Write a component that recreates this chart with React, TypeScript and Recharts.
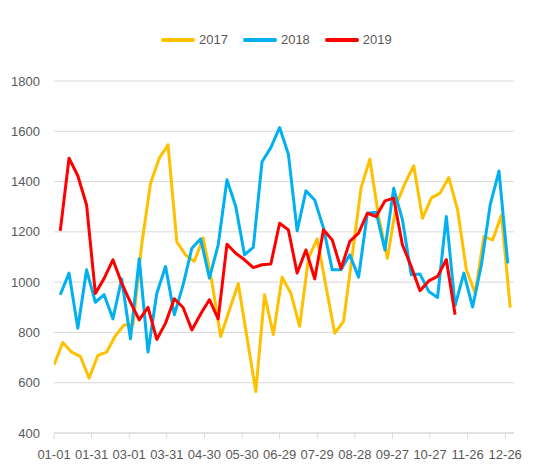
import { CartesianGrid, Legend, Line, LineChart, XAxis, YAxis } from "recharts";

// x axis: day of year, ticks every 30 days
const TICK_DAYS = [0, 30, 60, 90, 120, 150, 180, 210, 240, 270, 300, 330, 360];
const TICK_LABELS = [
  "01-01", "01-31", "03-01", "03-31", "04-30", "05-30", "06-29",
  "07-29", "08-28", "09-27", "10-27", "11-26", "12-26",
];
const Y_TICKS = [400, 600, 800, 1000, 1200, 1400, 1600, 1800];

const SERIES_NAMES = ["2017", "2018", "2019"];
const COLORS = ["#FFC000", "#00B0F0", "#FF0000"];
// first weekly observation of each year (day of year)
const START_DAYS = [0, 5, 5];

const VALUES_2017 = [
  671, 760, 722, 705, 618, 709, 722, 787, 830, 830, 1150, 1393, 1493, 1546,
  1160, 1108, 1083, 1176, 1000, 784, 890, 994, 780, 565, 950, 792, 1020, 955,
  824, 1095, 1172, 983, 797, 844, 1108, 1376, 1489, 1260, 1095, 1307, 1393,
  1463, 1254, 1334, 1354, 1416, 1287, 1049, 956, 1181, 1168, 1267, 899,
];
const VALUES_2018 = [
  950, 1036, 817, 1049, 920, 950, 854, 1013, 775, 1093, 722, 955, 1062, 870,
  989, 1135, 1172, 1016, 1148, 1407, 1301, 1109, 1138, 1479, 1535, 1615, 1509,
  1204, 1363, 1327, 1215, 1049, 1049, 1109, 1020, 1274, 1278, 1128, 1373, 1248,
  1029, 1032, 963, 939, 1261, 907, 1036, 901, 1069, 1307, 1442, 1075,
];
const VALUES_2019 = [
  1204, 1493, 1423, 1307, 955, 1015, 1089, 996, 920, 850, 900, 772, 837, 934,
  899, 810, 873, 930, 854, 1151, 1115, 1089, 1058, 1069, 1072, 1234, 1208,
  1036, 1128, 1013, 1208, 1168, 1053, 1162, 1195, 1274, 1261, 1323, 1334, 1148,
  1062, 966, 1005, 1023, 1090, 870,
];

const ALL_VALUES = [VALUES_2017, VALUES_2018, VALUES_2019];

const seriesData = ALL_VALUES.map((values, s) =>
  values.map((v, i) => ({ day: START_DAYS[s] + i * 7, value: v }))
);

const FONT = "'Liberation Sans', Arial, sans-serif";
const TEXT_COLOR = "#595959";
const GRID_COLOR = "#d9d9d9";

function renderLegend() {
  return (
    <div
      style={{
        display: "flex",
        alignItems: "center",
        height: 18,
        paddingLeft: 161,
        fontFamily: FONT,
      }}
    >
      {SERIES_NAMES.map((name, i) => (
        <span
          key={name}
          style={{ display: "inline-flex", alignItems: "center", marginRight: 15 }}
        >
          <svg width={34} height={6}>
            <line
              x1={2}
              y1={3}
              x2={32}
              y2={3}
              stroke={COLORS[i]}
              strokeWidth={4}
              strokeLinecap="round"
            />
          </svg>
          <span style={{ marginLeft: 4, fontSize: 13, color: TEXT_COLOR, lineHeight: "18px" }}>
            {name}
          </span>
        </span>
      ))}
    </div>
  );
}

export default function App() {
  return (
    <div style={{ position: "absolute", left: 0, top: 0, background: "#fff" }}>
      <LineChart
        width={535}
        height={469}
        margin={{ top: 81, right: 21, bottom: 6, left: 0 }}
      >
        <CartesianGrid vertical={false} stroke={GRID_COLOR} />
        <XAxis
          type="number"
          dataKey="day"
          domain={[0, 367]}
          ticks={TICK_DAYS}
          interval={0}
          allowDataOverflow
          tickFormatter={(d: number) => TICK_LABELS[TICK_DAYS.indexOf(d)]}
          axisLine={{ stroke: GRID_COLOR }}
          tickLine={{ stroke: GRID_COLOR }}
          tickSize={6}
          tickMargin={11}
          height={30}
          tick={{ fill: TEXT_COLOR, fontSize: 13, fontFamily: FONT }}
        />
        <YAxis
          type="number"
          domain={[400, 1800]}
          ticks={Y_TICKS}
          interval={0}
          axisLine={false}
          tickLine={false}
          width={54}
          tickMargin={8}
          tick={{ fill: TEXT_COLOR, fontSize: 13, fontFamily: FONT }}
        />
        <Legend
          layout="horizontal"
          verticalAlign="middle"
          align="center"
          content={renderLegend}
          wrapperStyle={{ top: 31, left: 0, width: 535 }}
        />
        {SERIES_NAMES.map((name, i) => (
          <Line
            key={name}
            data={seriesData[i]}
            dataKey="value"
            name={name}
            type="linear"
            stroke={COLORS[i]}
            strokeWidth={3}
            strokeLinejoin="round"
            dot={false}
            activeDot={false}
            isAnimationActive={false}
          />
        ))}
      </LineChart>
    </div>
  );
}
